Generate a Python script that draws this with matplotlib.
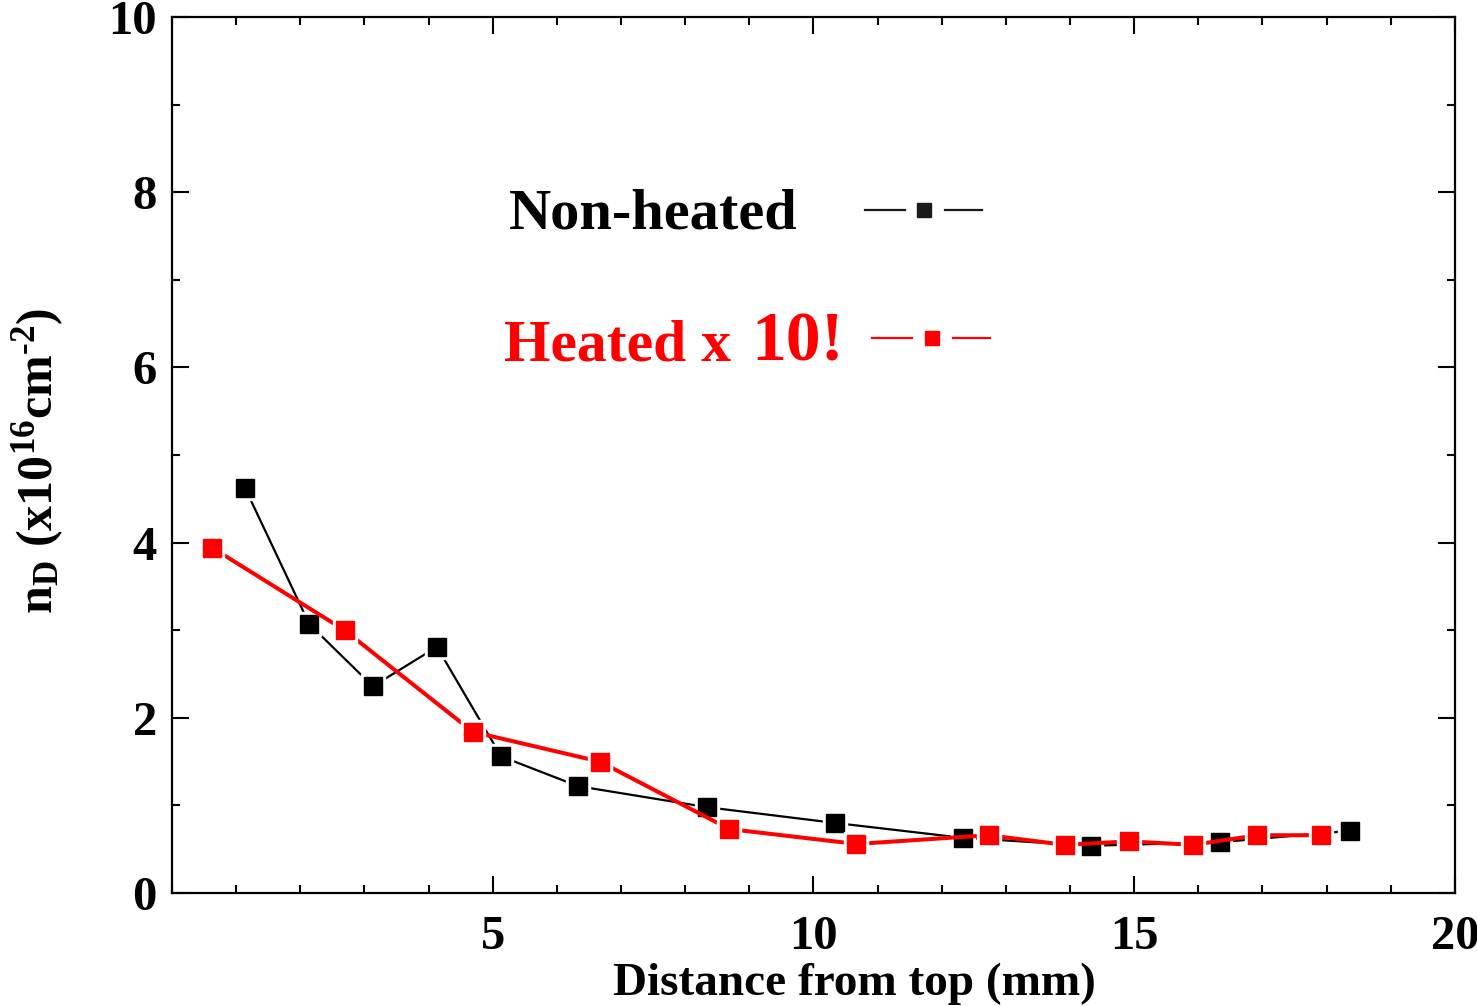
import matplotlib.pyplot as plt
from matplotlib.ticker import MultipleLocator

# distance from top (mm) and areal density n_D (x1e16 cm^-2)
x_nonheated = [1.14, 2.14, 3.13, 4.13, 5.13, 6.33, 8.34, 10.34, 12.33, 14.33, 16.34, 18.36]
y_nonheated = [4.62, 3.07, 2.36, 2.81, 1.56, 1.22, 0.98, 0.80, 0.63, 0.54, 0.58, 0.71]

x_heated = [0.63, 2.69, 4.69, 6.67, 8.69, 10.67, 12.73, 13.92, 14.92, 15.92, 16.92, 17.92]
y_heated = [3.94, 3.00, 1.84, 1.50, 0.73, 0.56, 0.66, 0.55, 0.59, 0.55, 0.66, 0.66]

xticks = [5, 10, 15, 20]
yticks = [0, 2, 4, 6, 8, 10]

plt.rcParams['font.family'] = 'Liberation Serif'
plt.rcParams['font.weight'] = 'bold'
plt.rcParams['axes.labelweight'] = 'bold'
plt.rcParams['mathtext.fontset'] = 'custom'
plt.rcParams['mathtext.rm'] = 'Liberation Serif:bold'
plt.rcParams['mathtext.it'] = 'Liberation Serif:bold'
plt.rcParams['mathtext.bf'] = 'Liberation Serif:bold'

fig = plt.figure(figsize=(14.77, 10.06), dpi=100)
ax = fig.add_axes([0.1165, 0.1123, 0.8685, 0.8707])

def series(x, y, color, lw, z):
    ax.plot(x, y, color=color, lw=lw, zorder=z, solid_capstyle='butt')
    # white halo so the line stops short of each marker
    ax.plot(x, y, ls='none', marker='s', ms=17, color='white', zorder=z + 0.1)
    ax.plot(x, y, ls='none', marker='s', ms=13, color=color, zorder=z + 0.2)

series(x_nonheated, y_nonheated, 'black', 1.6, 3)
series(x_heated, y_heated, '#ff0000', 2.9, 4)

ax.set_xlim(0, 20)
ax.set_ylim(0, 10)
ax.set_xticks(xticks)
ax.set_yticks(yticks)
ax.xaxis.set_minor_locator(MultipleLocator(1))
ax.yaxis.set_minor_locator(MultipleLocator(1))
ax.tick_params(which='both', direction='in', top=True, right=True, width=1.5)
ax.tick_params(which='major', length=12)
ax.tick_params(which='minor', length=6)
ax.tick_params(axis='x', labelsize=35, pad=16)
ax.tick_params(axis='y', labelsize=35, pad=11)
for s in ax.spines.values():
    s.set_linewidth(1.6)

ax.set_xlabel('Distance from top (mm)', fontsize=34)
ax.xaxis.set_label_coords(0.532, -0.079)
ax.set_ylabel(r'n$_{\rm D}$ (x10$^{16}$cm$^{\text{-}2}$)', fontsize=36)
ax.yaxis.set_label_coords(-0.083, 0.493)

# hand-made legend
ax.text(5.25, 7.59, 'Non-heated', fontsize=42, color='black')
ax.text(5.17, 6.08, 'Heated x', fontsize=43, color='#ff0000')
ax.text(9.03, 6.08, '10!', fontsize=50, color='#ff0000')
for yk, x0, c in [(7.80, 10.8, '#1a1a1a'), (6.34, 10.92, '#ff0000')]:
    ax.plot([x0, x0 + 0.62], [yk, yk], color=c, lw=1.6, clip_on=False)
    ax.plot([x0 + 1.25, x0 + 1.83], [yk, yk], color=c, lw=1.6, clip_on=False)
    ax.plot([x0 + 0.93], [yk], marker='s', ms=10, color=c, ls='none')

fig.savefig('out.png', dpi=100)
